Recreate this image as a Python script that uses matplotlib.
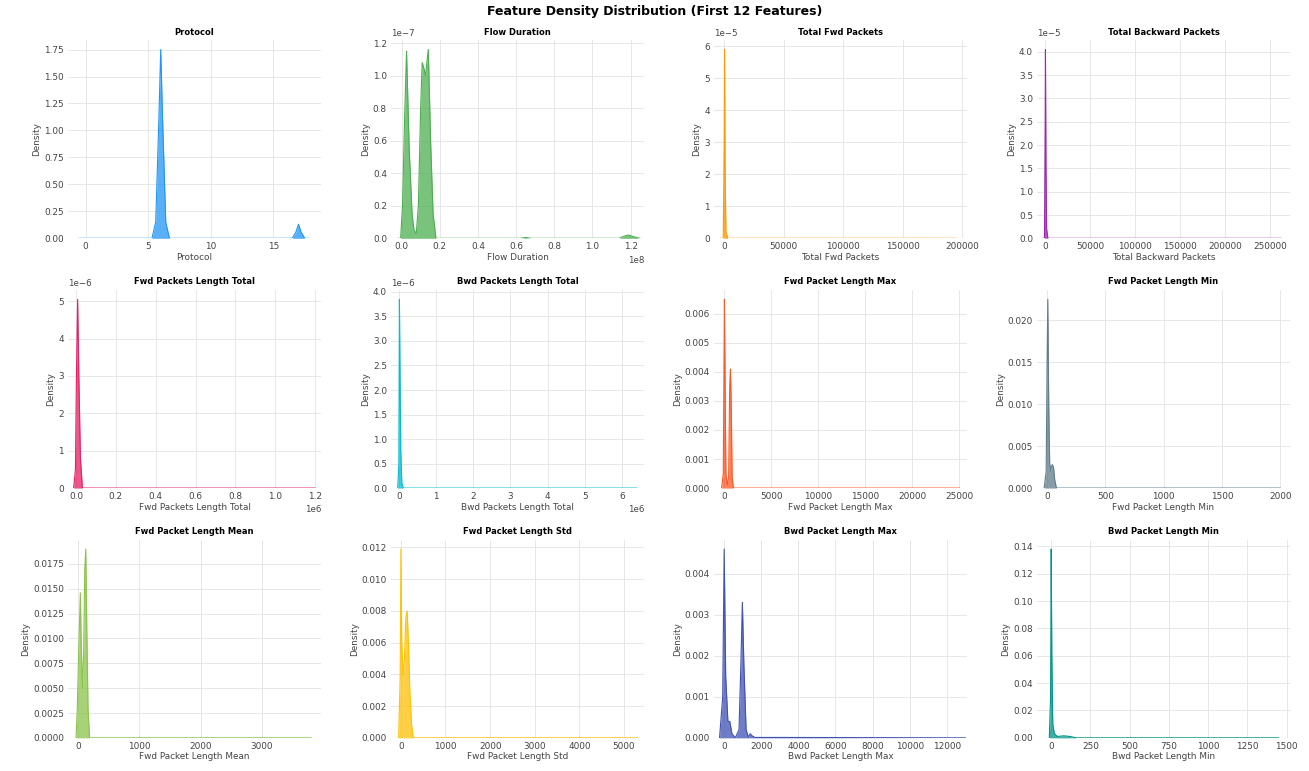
import numpy as np
import matplotlib
matplotlib.use("Agg")
import matplotlib.pyplot as plt
from matplotlib.ticker import MultipleLocator

# feature names (panel order, row-major)
features = [
    "Protocol", "Flow Duration", "Total Fwd Packets", "Total Backward Packets",
    "Fwd Packets Length Total", "Bwd Packets Length Total", "Fwd Packet Length Max", "Fwd Packet Length Min",
    "Fwd Packet Length Mean", "Fwd Packet Length Std", "Bwd Packet Length Max", "Bwd Packet Length Min",
]

colors = [
    "#2196F3", "#4CAF50", "#FF9800", "#9C27B0",
    "#E91E63", "#00BCD4", "#FF5722", "#607D8B",
    "#8BC34A", "#FFC107", "#3F51B5", "#009688",
]

# density curves (x grid, density)
protocol_x = [-0.5, 5.3, 5.6, 5.85, 6.0, 6.15, 6.4, 6.7, 16.5, 16.8, 17.0, 17.2, 17.5, 17.8]
protocol_y = [0, 0, 0.15, 1.1, 1.75, 1.1, 0.15, 0, 0, 0.06, 0.13, 0.06, 0, 0]

flow_x = [-0.02e8, -0.005e8, 0.005e8, 0.015e8, 0.026e8, 0.04e8, 0.055e8, 0.065e8, 0.077e8, 0.088e8,
          0.1e8, 0.108e8, 0.118e8, 0.126e8, 0.134e8, 0.14e8, 0.152e8, 0.165e8, 0.18e8,
          0.62e8, 0.65e8, 0.68e8, 1.14e8, 1.17e8, 1.19e8, 1.22e8, 1.25e8]
flow_y = [0, 0, 0.2e-7, 0.7e-7, 1.15e-7, 0.55e-7, 0.15e-7, 0.05e-7, 0.03e-7, 0.2e-7,
          0.8e-7, 1.08e-7, 1.04e-7, 1.0e-7, 1.1e-7, 1.16e-7, 0.6e-7, 0.15e-7, 0,
          0, 0.005e-7, 0, 0, 0.015e-7, 0.02e-7, 0.008e-7, 0]

fwd_pk_x = [-3000, -800, 0, 300, 800, 1500, 3000, 195000]
fwd_pk_y = [0, 0, 3.0e-5, 5.9e-5, 2.0e-5, 0.2e-5, 0, 0]

bwd_pk_x = [-3000, -800, 0, 300, 900, 1600, 3000, 262000]
bwd_pk_y = [0, 0, 2.5e-5, 4.05e-5, 1.5e-5, 0.2e-5, 0, 0]

fwd_len_tot_x = [-12000, -3000, 2000, 8000, 14000, 22000, 32000, 1.2e6]
fwd_len_tot_y = [0, 0.5e-6, 3.0e-6, 5.05e-6, 3.0e-6, 0.8e-6, 0, 0]

bwd_len_tot_x = [-40000, -10000, 5000, 20000, 40000, 70000, 110000, 6.4e6]
bwd_len_tot_y = [0, 0.5e-6, 3.85e-6, 2.5e-6, 0.8e-6, 0.1e-6, 0, 0]

fwd_max_x = [-300, -120, 0, 60, 160, 300, 450, 560, 640, 720, 820, 950, 25000]
fwd_max_y = [0, 0.0005, 0.0065, 0.004, 0.0005, 0.0001, 0.0004, 0.0035, 0.0041, 0.003, 0.0004, 0, 0]

fwd_min_x = [-25, -8, 0, 6, 14, 22, 30, 38, 45, 55, 65, 80, 2000]
fwd_min_y = [0, 0.002, 0.015, 0.0225, 0.01, 0.003, 0.002, 0.0026, 0.0028, 0.0025, 0.001, 0, 0]

fwd_mean_x = [-30, -10, 10, 40, 55, 75, 95, 112, 128, 145, 165, 190, 3800]
fwd_mean_y = [0, 0.003, 0.008, 0.0146, 0.009, 0.005, 0.009, 0.017, 0.019, 0.011, 0.003, 0, 0]

fwd_std_x = [-50, -15, 0, 20, 50, 80, 110, 140, 170, 200, 240, 280, 5300]
fwd_std_y = [0, 0.004, 0.0119, 0.006, 0.004, 0.005, 0.0075, 0.008, 0.006, 0.003, 0.0008, 0, 0]

bwd_max_x = [-250, -80, 0, 80, 200, 300, 420, 600, 800, 900, 980, 1060, 1180, 1300, 1400, 1500, 1650, 3000, 13000]
bwd_max_y = [0, 0.001, 0.0046, 0.0015, 0.0004, 0.0004, 0.0001, 0, 0.0002, 0.0018, 0.0033, 0.0018, 0.0002,
             0.00002, 0.0001, 0.00005, 0.00001, 0.00001, 0]

bwd_min_x = [-12, -4, 0, 4, 10, 20, 40, 80, 120, 160, 1450]
bwd_min_y = [0, 0.03, 0.138, 0.06, 0.01, 0.003, 0.001, 0.0015, 0.001, 0, 0]

curves = [
    (protocol_x, protocol_y), (flow_x, flow_y), (fwd_pk_x, fwd_pk_y), (bwd_pk_x, bwd_pk_y),
    (fwd_len_tot_x, fwd_len_tot_y), (bwd_len_tot_x, bwd_len_tot_y), (fwd_max_x, fwd_max_y), (fwd_min_x, fwd_min_y),
    (fwd_mean_x, fwd_mean_y), (fwd_std_x, fwd_std_y), (bwd_max_x, bwd_max_y), (bwd_min_x, bwd_min_y),
]

# visible x range and x tick step of each panel
xlims = [
    (-1.4, 18.8), (-0.055e8, 1.27e8), (-8500, 204000), (-9000, 272000),
    (-0.04e6, 1.23e6), (-0.22e6, 6.6e6), (-1100, 25800), (-86, 2085),
    (-160, 3960), (-220, 5450), (-545, 13090), (-90, 1522),
]
xsteps = [5, 0.2e8, 50000, 50000, 0.2e6, 1e6, 5000, 500, 1000, 1000, 2000, 250]


def main():
    plt.rcParams.update({
        "font.family": "DejaVu Sans",
        "axes.facecolor": "white",
        "axes.grid": True,
        "grid.color": "#e3e3e3",
        "grid.linewidth": 0.6,
        "xtick.labelsize": 6.4,
        "ytick.labelsize": 6.4,
        "xtick.color": "#444444",
        "ytick.color": "#444444",
        "xtick.major.size": 0,
        "ytick.major.size": 0,
        "xtick.major.pad": 3,
        "ytick.major.pad": 3,
    })

    fig, axs = plt.subplots(3, 4, figsize=(13.09, 7.71), dpi=100)
    fig.subplots_adjust(left=0.052, right=0.9855, top=0.948, bottom=0.043, wspace=0.277, hspace=0.26)

    for ax, name, col, (xs, ys), xl, st in zip(axs.flatten(), features, colors, curves, xlims, xsteps):
        xs = np.array(xs, dtype=float)
        ys = np.array(ys, dtype=float)
        ax.fill_between(xs, 0, ys, color=col, alpha=0.75, linewidth=0)
        ax.plot(xs, ys, color=col, linewidth=0.8)
        ax.xaxis.set_major_locator(MultipleLocator(st))
        ax.set_xlim(*xl)
        ax.set_ylim(0, None)
        ax.set_title(name, fontsize=6, fontweight="bold", pad=4)
        ax.set_xlabel(name, fontsize=6.4, color="#444444", labelpad=1)
        ax.set_ylabel("Density", fontsize=6.4, color="#444444", labelpad=2)
        ax.xaxis.get_offset_text().set_fontsize(6.2)
        ax.yaxis.get_offset_text().set_fontsize(6.2)
        for s in ax.spines.values():
            s.set_visible(False)
        ax.set_axisbelow(True)

    fig.suptitle("Feature Density Distribution (First 12 Features)", fontsize=9, fontweight="bold", y=0.993)
    fig.savefig("out.png", dpi=100)


if __name__ == "__main__":
    main()
